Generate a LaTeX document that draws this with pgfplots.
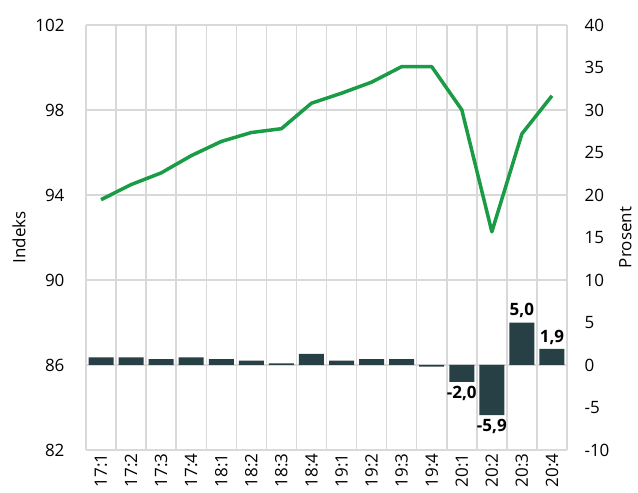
\documentclass[border=0pt]{standalone}
\usepackage{fontspec}
\setmainfont{Open Sans}
\usepackage{pgfplots}
\pgfplotsset{compat=1.18}
\usepackage{pgfplotstable}
\definecolor{barc}{RGB}{38,64,69}
\definecolor{linec}{RGB}{26,155,69}
\definecolor{gridc}{RGB}{217,217,217}

\pgfplotstableread{
x idx
0 93.78
1 94.49
2 95.04
3 95.85
4 96.52
5 96.94
6 97.12
7 98.32
8 98.79
9 99.31
10 100.04
11 100.04
12 98.01
13 92.27
14 96.88
15 98.67
}\linedata

% positive changes
\pgfplotstableread{
x val lab
0 0.9 {}
1 0.9 {}
2 0.7 {}
3 0.9 {}
4 0.7 {}
5 0.5 {}
6 0.2 {}
7 1.3 {}
8 0.5 {}
9 0.7 {}
10 0.7 {}
14 5.0 {5,0}
15 1.9 {1,9}
}\posdata

% negative changes
\pgfplotstableread{
x val lab
11 -0.2 {}
12 -2.0 {-2,0}
13 -5.9 {-5,9}
}\negdata

\begin{document}
\begin{tikzpicture}
\pgfplotsset{
  common/.style={
    scale only axis,
    width=481pt, height=425pt,
    at={(86pt,43pt)}, anchor=south west,
    xmin=-0.5, xmax=15.5,
    /pgf/number format/assume math mode=true,
    tick label style={font=\fontsize{17}{20}\selectfont},
    label style={font=\fontsize{17}{20}\selectfont},
    major tick length=0pt, minor tick length=0pt,
  }
}
\begin{axis}[common,
  ymin=82, ymax=102, ytick={82,86,...,102},
  ylabel={Indeks},
  xtick={0,...,15},
  xticklabels={17:1,17:2,17:3,17:4,18:1,18:2,18:3,18:4,19:1,19:2,19:3,19:4,20:1,20:2,20:3,20:4},
  xticklabel style={rotate=90, anchor=east},
  yticklabel style={xshift=-18pt},
  minor xtick={-0.5,0.5,...,15.5},
  xminorgrids=true, ymajorgrids=true,
  grid style={gridc, line width=1.5pt},
  minor grid style={gridc, line width=1.5pt},
  axis line style={gridc, line width=1.5pt},
  axis y line*=left,
  ylabel style={yshift=3pt},
]
\addplot[linec, line width=3.5pt, line join=round] table[x=x, y=idx] {\linedata};
\draw[gridc, line width=1.5pt] (rel axis cs:0,1) -- (rel axis cs:1,1) -- (rel axis cs:1,0);
\end{axis}
\begin{axis}[common,
  ymin=-10, ymax=40, ytick={-10,-5,...,40},
  axis y line*=right, axis x line=none,
  axis line style={draw=none},
  ylabel={Prosent},
  yticklabel style={xshift=14pt},
  ylabel style={yshift=-3pt},
  ybar, bar width=25pt,
  point meta=explicit symbolic,
  nodes near coords,
  nodes near coords style={font=\bfseries\fontsize{17}{20}\selectfont, black},
]
\addplot[fill=barc, draw=none, bar shift=0pt,
  every node near coord/.append style={anchor=south, yshift=1pt}]
  table[x=x, y=val, meta=lab] {\posdata};
\addplot[fill=barc, draw=none, bar shift=0pt,
  every node near coord/.append style={anchor=north, yshift=-1pt}]
  table[x=x, y=val, meta=lab] {\negdata};
\end{axis}
\pgfresetboundingbox
\useasboundingbox (0,0) rectangle (638pt,493pt);
\end{tikzpicture}
\end{document}
